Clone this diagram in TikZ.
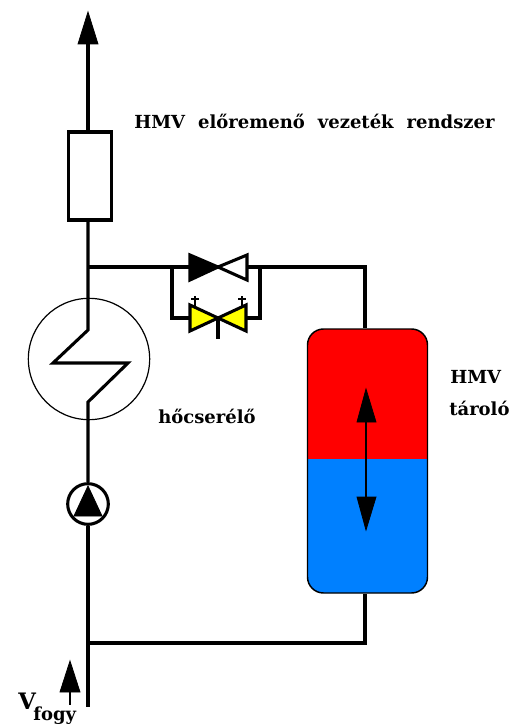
\documentclass[tikz,border=0pt]{standalone}
\usepackage{fontspec}
\setmainfont{DejaVu Serif}
\definecolor{tankred}{RGB}{255,0,0}
\definecolor{tankblue}{RGB}{0,128,255}
\definecolor{valveyellow}{RGB}{255,255,0}
\tikzset{
	pipe/.style={line width=2.3pt},
	tip/.style={fill=black,draw=black,line width=0.6pt,line join=miter},
	lbl/.style={font=\fontsize{13.5}{16}\selectfont\bfseries,inner sep=0pt},
}
\begin{document}
\begin{tikzpicture}[>=stealth,x=0.75pt,y=-0.75pt]
	\useasboundingbox (0,0) rectangle (511,724);
	% pipe points
	\coordinate (top) at (88,40);
	\coordinate (jtop) at (88,267);
	\coordinate (jbot) at (88,643);
	\coordinate (end) at (88,707);
	\coordinate (corner1) at (365,267);
	\coordinate (corner2) at (365,643);
	\coordinate (vcenter) at (218,267);
	\coordinate (ycenter) at (218,318);
	\coordinate (byleft) at (172,267);
	\coordinate (byright) at (260,267);
	\node[draw,pipe,minimum width=32pt,minimum height=66pt,inner sep=0pt] (filter) at (90,176) {};
	\node[draw,circle,line width=0.9pt,minimum size=91pt,inner sep=0pt] (exchanger) at (89,359) {};
	\node[draw,circle,pipe,minimum size=30.5pt,inner sep=0pt] (pump) at (88,504) {};
	\node[draw=black,line width=1.1pt,rounded corners=12pt,minimum width=90pt,minimum height=198pt,inner sep=0pt,
		path picture={
			\fill[tankred,sharp corners] (-70,-140) rectangle (70,-2);
			\fill[tankblue,sharp corners] (-70,-2) rectangle (70,140);
		}] (tank) at (367.5,461) {};
	% pipes
	\draw[pipe] (top) -- (filter.north -| top);
	\draw[pipe] (filter.south -| top) -- (jtop) -- (88,330) -- (53,363) -- (128,363) -- (88,402) -- (pump.north);
	\draw[pipe] (pump.south) -- (end);
	\draw[pipe] (jbot) -- (corner2) -- (tank.south -| corner2);
	\draw[pipe] (jtop) -- (corner1) -- (tank.north -| corner1);
	\draw[pipe] (byleft) |- (ycenter);
	\draw[pipe] (byright) |- (ycenter);
	% valves
	\fill[black,draw=black,pipe] (190,255) -- (vcenter) -- (190,280) -- cycle;
	\filldraw[fill=white,draw=black,pipe] (247,255) -- (vcenter) -- (247,280) -- cycle;
	\filldraw[fill=valveyellow,draw=black,pipe] (190,305) -- (ycenter) -- (190,331) -- cycle;
	\filldraw[fill=valveyellow,draw=black,pipe] (246,305) -- (ycenter) -- (246,331) -- cycle;
	\draw[line width=3.4pt] (ycenter) -- (218,339);
	\foreach \px in {195,242} {
		\draw[line width=1.1pt] (\px,296) -- (\px,306);
		\draw[line width=1.1pt] (\px-4,299) -- (\px+4,299);
	}
	% arrow heads
	\fill[tip] (88,12) -- (98,44) -- (78,44) -- cycle;
	\fill[tip] (88,486) -- (102,516) -- (74,516) -- cycle;
	\fill[tip] (70,661) -- (80,692) -- (60,692) -- cycle;
	\draw[line width=1.9pt] (70,692) -- (70,705);
	\draw[line width=1.9pt] (366,420) -- (366,500);
	\fill[tip] (366,389) -- (376,422) -- (357,422) -- cycle;
	\fill[tip] (366,530) -- (376,497) -- (357,497) -- cycle;
	% labels
	\node[lbl,anchor=west] (lblline) at (134,121) {\spaceskip=0.72em HMV előremenő vezeték rendszer};
	\node[lbl,anchor=west] (lblhx) at (158,416) {hőcserélő};
	\node[lbl,anchor=west] (lbltank1) at (450,377) {HMV};
	\node[lbl,anchor=west] (lbltank2) at (449,408) {tároló};
	\node[lbl,anchor=west,font=\fontsize{17}{20}\selectfont\bfseries] (lblflow) at (18,701) {V};
	\node[lbl,anchor=west] (lblfogy) at (33,716) {fogy};
\end{tikzpicture}
\end{document}
